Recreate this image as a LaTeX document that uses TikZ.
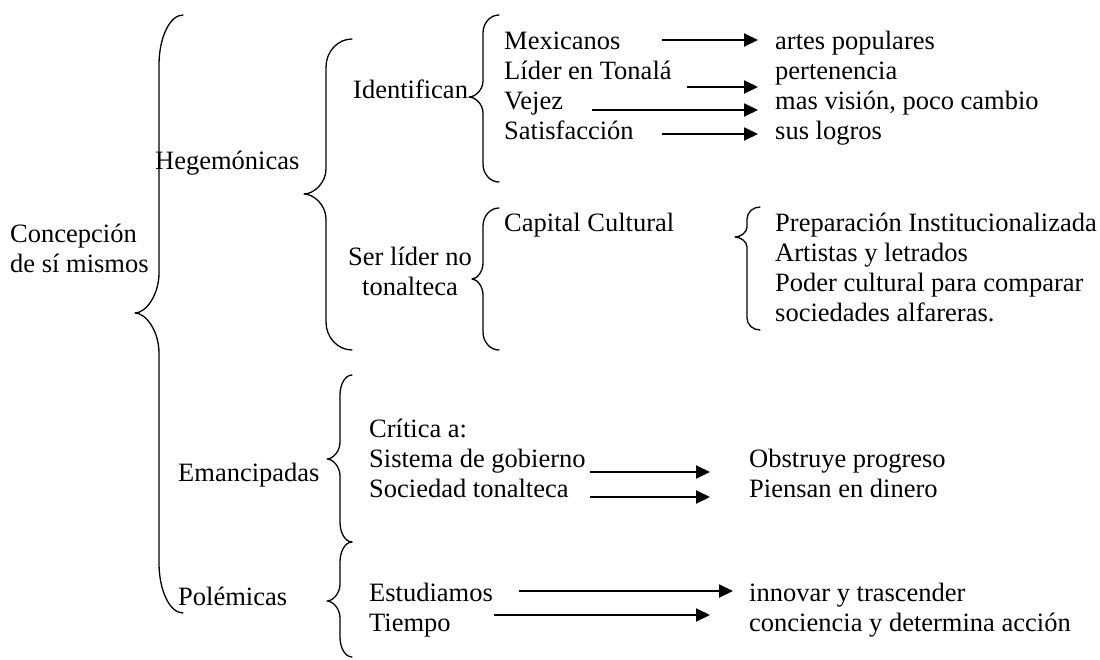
\documentclass[tikz,border=0pt]{standalone}
\usepackage{fontspec}
\setmainfont{Liberation Serif}
\usetikzlibrary{arrows.meta}
\newcommand\drawbrace[8]{% xe xv xt ytop ytip ybot rend rtip
  \draw[brc] (#1,#4) .. controls ({#2+0.45*(#1-#2)},#4) and (#2,{#4+0.45*#7}) .. (#2,#4+#7)
    -- (#2,#5-#8) .. controls (#2,{#5-0.45*#8}) and ({#3+0.45*(#2-#3)},#5) .. (#3,#5)
    .. controls ({#3+0.45*(#2-#3)},#5) and (#2,{#5+0.45*#8}) .. (#2,#5+#8)
    -- (#2,#6-#7) .. controls (#2,{#6-0.45*#7}) and ({#2+0.45*(#1-#2)},#6) .. (#1,#6);}
\begin{document}
\begin{tikzpicture}[x=1pt,y=-1pt,
  txt/.style={inner sep=0pt, anchor=base west, font=\fontsize{26.5}{30}\selectfont},
  ctxt/.style={txt, anchor=base},
  lnk/.style={line width=2pt, -{Triangle[length=14pt,width=13pt]}},
  brc/.style={line width=1.3pt, line join=round, line cap=round}]
\useasboundingbox (0,0) rectangle (1100,659);

% braces
\drawbrace{183}{159}{135}{15}{313}{613}{50}{40}
\drawbrace{352}{326}{304}{39}{194}{350}{28}{25}
\drawbrace{499}{483}{469}{15}{97}{182}{18}{16}
\drawbrace{499}{483}{472}{208}{279}{350}{18}{16}
\drawbrace{760}{747}{735}{207}{237}{330}{12}{10}
\drawbrace{352}{340}{327}{375}{459}{542}{20}{17}
\drawbrace{352}{340}{327}{542}{601}{657}{20}{17}

% level 0
\node[txt] (c1) at (10,242) {Concepción};
\node[txt] (c2) at (10,272) {de sí mismos};

% level 1
\node[txt] (heg) at (155,169) {Hegemónicas};
\node[txt] (ema) at (178,481) {Emancipadas};
\node[txt] (pol) at (178,605) {Polémicas};

% level 2
\node[txt] (ide) at (353,98) {Identifican};
\node[ctxt] (ser1) at (410,265) {Ser líder no};
\node[ctxt] (ser2) at (410,295) {tonalteca};

% Identifican items
\node[txt] (mex) at (504,49) {Mexicanos};
\node[txt] (lid) at (504,79) {Líder en Tonalá};
\node[txt] (vej) at (504,109) {Vejez};
\node[txt] (sat) at (504,139) {Satisfacción};
\node[txt] (art) at (775,49) {artes populares};
\node[txt] (per) at (775,79) {pertenencia};
\node[txt] (mas) at (775,109) {mas visión, poco cambio};
\node[txt] (sus) at (775,139) {sus logros};

% Capital cultural
\node[txt] (cap) at (504,231) {Capital Cultural};
\node[txt] (pre) at (775,231) {Preparación Institucionalizada};
\node[txt] (ayl) at (775,261) {Artistas y letrados};
\node[txt] (pod) at (775,291) {Poder cultural para comparar};
\node[txt] (soc) at (775,321) {sociedades alfareras.};

% Emancipadas items
\node[txt] (cri) at (369,437) {Crítica a:};
\node[txt] (sis) at (369,467) {Sistema de gobierno};
\node[txt] (sto) at (369,497) {Sociedad tonalteca};
\node[txt] (obs) at (749,467) {Obstruye progreso};
\node[txt] (pie) at (749,497) {Piensan en dinero};

% Polemicas items
\node[txt] (est) at (369,601) {Estudiamos};
\node[txt] (tie) at (369,631) {Tiempo};
\node[txt] (inn) at (749,601) {innovar y trascender};
\node[txt] (con) at (749,631) {conciencia y determina acción};

% arrows
\coordinate (m1) at (662,40);  \coordinate (m2) at (758,40);
\coordinate (l1) at (687,87);  \coordinate (l2) at (758,87);
\coordinate (v1) at (592,110); \coordinate (v2) at (758,110);
\coordinate (s1) at (662,134); \coordinate (s2) at (758,134);
\coordinate (g1) at (590,472); \coordinate (g2) at (710,472);
\coordinate (t1) at (590,497); \coordinate (t2) at (710,497);
\coordinate (e1) at (519,591); \coordinate (e2) at (733,591);
\coordinate (p1) at (494,615); \coordinate (p2) at (710,615);
\draw[lnk] (m1) -- (m2);
\draw[lnk] (l1) -- (l2);
\draw[lnk] (v1) -- (v2);
\draw[lnk] (s1) -- (s2);
\draw[lnk] (g1) -- (g2);
\draw[lnk] (t1) -- (t2);
\draw[lnk] (e1) -- (e2);
\draw[lnk] (p1) -- (p2);
\end{tikzpicture}
\end{document}
